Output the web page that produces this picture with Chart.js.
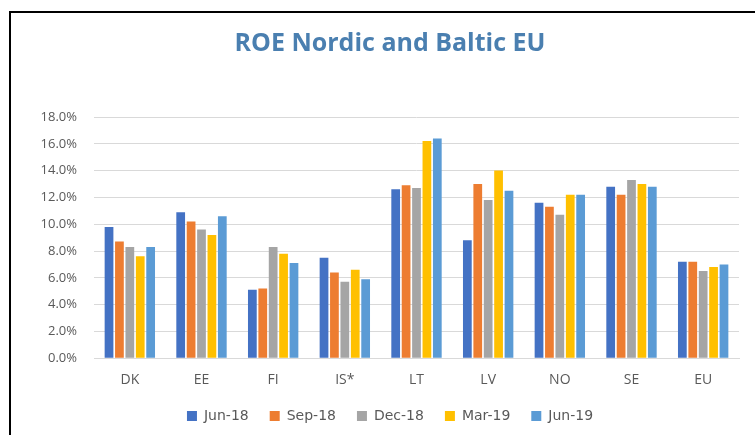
<!DOCTYPE html>
<html>
<head>
<meta charset="utf-8">
<script src="https://cdn.jsdelivr.net/npm/chart.js@4"></script>
<style>
  html, body { margin: 0; padding: 0; background: #fff; overflow: hidden; }
  #frame {
    position: absolute; left: 9px; top: 11px;
    width: 770px; height: 440px;
    border-left: 2px solid #000; border-top: 2px solid #000;
  }
  #wrap { position: absolute; left: 1px; top: 1px; width: 760px; height: 421px; }
</style>
</head>
<body>
<div id="frame"><div id="wrap"><canvas id="roe"></canvas></div></div>
<script>
const countries = ['DK', 'EE', 'FI', 'IS*', 'LT', 'LV', 'NO', 'SE', 'EU'];
const jun18 = [9.8, 10.9, 5.1, 7.5, 12.6, 8.8, 11.6, 12.8, 7.2];
const sep18 = [8.7, 10.2, 5.2, 6.4, 12.9, 13.0, 11.3, 12.2, 7.2];
const dec18 = [8.3, 9.6, 8.3, 5.7, 12.7, 11.8, 10.7, 13.3, 6.5];
const mar19 = [7.6, 9.2, 7.8, 6.6, 16.2, 14.0, 12.2, 13.0, 6.8];
const jun19 = [8.3, 10.6, 7.1, 5.9, 16.4, 12.5, 12.2, 12.8, 7.0];

const grey = '#595959';
const ds = (label, data, color) => ({
  label, data, backgroundColor: color, borderWidth: 0,
  categoryPercentage: 0.726, barPercentage: 0.84
});

new Chart(document.getElementById('roe'), {
  type: 'bar',
  data: {
    labels: countries,
    datasets: [
      ds('Jun-18', jun18, '#4472C4'),
      ds('Sep-18', sep18, '#ED7D31'),
      ds('Dec-18', dec18, '#A5A5A5'),
      ds('Mar-19', mar19, '#FFC000'),
      ds('Jun-19', jun19, '#5B9BD5')
    ]
  },
  options: {
    responsive: true,
    maintainAspectRatio: false,
    animation: false,
    // left padding moves the title/legend centre right, y width compensates
    layout: { padding: { left: 29, right: 33, top: 0, bottom: 2 } },
    plugins: {
      title: {
        display: true,
        text: 'ROE Nordic and Baltic EU',
        color: '#4a7fb0',
        font: { family: 'Open Sans', size: 25, weight: 'bold' },
        padding: { top: 15, bottom: 58 }
      },
      legend: {
        position: 'bottom',
        labels: {
          boxWidth: 10, boxHeight: 10, padding: 21, color: grey,
          font: { family: 'DejaVu Sans', size: 14 }
        }
      },
      tooltip: { enabled: false }
    },
    scales: {
      x: {
        grid: { display: false, drawTicks: false },
        border: { color: '#d9d9d9' },
        ticks: { color: grey, padding: 13, font: { family: 'Open Sans', size: 14 } },
        afterFit: s => { s.height -= 13; }
      },
      y: {
        min: 0, max: 18,
        grid: { color: '#d9d9d9', drawTicks: false },
        border: { display: false },
        ticks: {
          stepSize: 2, padding: 17, color: grey,
          font: { family: 'Open Sans', size: 13 },
          callback: v => v.toFixed(1) + '%'
        },
        afterFit: s => { s.width = 53; }
      }
    }
  }
});
</script>
</body>
</html>
